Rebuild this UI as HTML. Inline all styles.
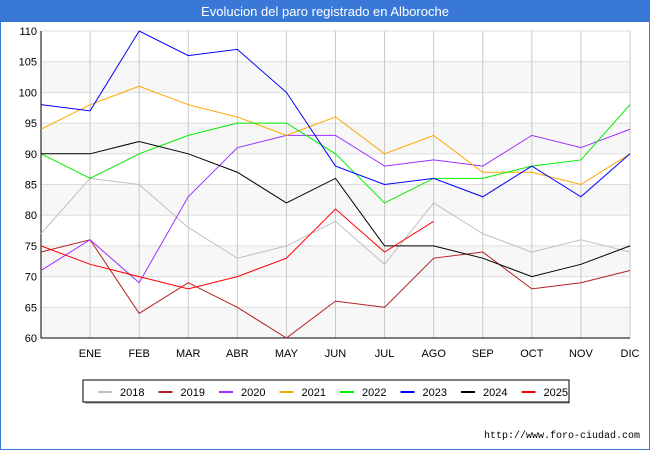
<!DOCTYPE html>
<html><head><meta charset="utf-8"><style>
body{margin:0;background:#fff;font-family:"Liberation Sans","DejaVu Sans",sans-serif}
#wrap{position:relative;width:648px;height:448px;border:1px solid #3a78d8;background:#fff}
#title{position:absolute;left:0;top:0;width:648px;height:21px;background:#3a78d8;color:#fff;font-size:13px;text-align:center;line-height:22px}
</style></head><body>
<div id="wrap">
<div id="title">Evolucion del paro registrado en Alboroche</div>
<svg id="chart" width="648" height="448" style="position:absolute;left:0;top:0"></svg>
</div>
<script>
const months=["","ENE","FEB","MAR","ABR","MAY","JUN","JUL","AGO","SEP","OCT","NOV","DIC"];
const yTicks=[60,65,70,75,80,85,90,95,100,105,110];
const seriesNames=["2018","2019","2020","2021","2022","2023","2024","2025"];
const seriesColors=["#c0c0c0","#b22222","#9b30ff","#ffa500","#00ee00","#0000ff","#000000","#ff0000"];
const v2018=[77,86,85,78,73,75,79,72,82,77,74,76,74];
const v2019=[74,76,64,69,65,60,66,65,73,74,68,69,71];
const v2020=[71,76,69,83,91,93,93,88,89,88,93,91,94];
const v2021=[94,98,101,98,96,93,96,90,93,87,87,85,90];
const v2022=[90,86,90,93,95,95,90,82,86,86,88,89,98];
const v2023=[98,97,110,106,107,100,88,85,86,83,88,83,90];
const v2024=[90,90,92,90,87,82,86,75,75,73,70,72,75];
const v2025=[75,72,70,68,70,73,81,74,79];
const allSeries=[v2018,v2019,v2020,v2021,v2022,v2023,v2024,v2025];
const NS="http://www.w3.org/2000/svg";
const svg=document.getElementById('chart');
const X0=40,X1=629,Y0=337,Y1=30,VMIN=60,VMAX=110;
const xs=i=>X0+i*(X1-X0)/12;
const ys=v=>Y0-(v-VMIN)*(Y0-Y1)/(VMAX-VMIN);
function mk(t,a){const e=document.createElementNS(NS,t);for(const k in a)e.setAttribute(k,a[k]);svg.appendChild(e);return e;}
for(let i=0;i<yTicks.length-1;i+=2){
 const r=mk('rect',{x:X0,y:ys(yTicks[i+1]),width:X1-X0,height:ys(yTicks[i])-ys(yTicks[i+1]),fill:'#f7f7f7'});
 
 
}
yTicks.forEach(t=>{
 const l=mk('line',{x1:X0,x2:X1,y1:ys(t),y2:ys(t),stroke:'#dddddd','stroke-width':1});
 
 
 const tx=mk('text',{x:X0-4,y:ys(t)+4,'text-anchor':'end','font-size':11,fill:'#000'});
 tx.textContent=t;
 
 
});
months.forEach((m,i)=>{
 if(i>0){const l=mk('line',{x1:xs(i),x2:xs(i),y1:Y1,y2:Y0,stroke:'#c8c8c8','stroke-width':1});
 
 }
 const tx=mk('text',{x:xs(i),y:356,'text-anchor':'middle','font-size':11,fill:'#000'});
 tx.textContent=m;
 
 
});
const ax=mk('path',{d:`M${X0} ${Y1}V${Y0}H${X1}`,fill:'none',stroke:'#000','stroke-width':1});


allSeries.forEach((s,k)=>{
 const p=mk('polyline',{points:s.map((v,i)=>xs(i)+','+ys(v)).join(' '),fill:'none',stroke:seriesColors[k],'stroke-width':1});
 
 
});
const lg=mk('rect',{x:82,y:379,width:486,height:22,fill:'#fff',stroke:'#000','stroke-width':1});


mk('line',{x1:84,x2:569,y1:402,y2:402,stroke:'#888'});
seriesNames.forEach((n,k)=>{
 const x=97+k*60.5;
 const l=mk('line',{x1:x,x2:x+14,y1:391,y2:391,stroke:seriesColors[k],'stroke-width':2});
 
 
 const t=mk('text',{x:x+22,y:395,'font-size':11,fill:'#000'});
 t.textContent=n;
 
 
});
const u=mk('text',{x:639,y:437,'text-anchor':'end','font-size':10,fill:'#000','font-family':'Liberation Mono, monospace'});
u.textContent='http://www.foro-ciudad.com';


</script>
</body></html>
